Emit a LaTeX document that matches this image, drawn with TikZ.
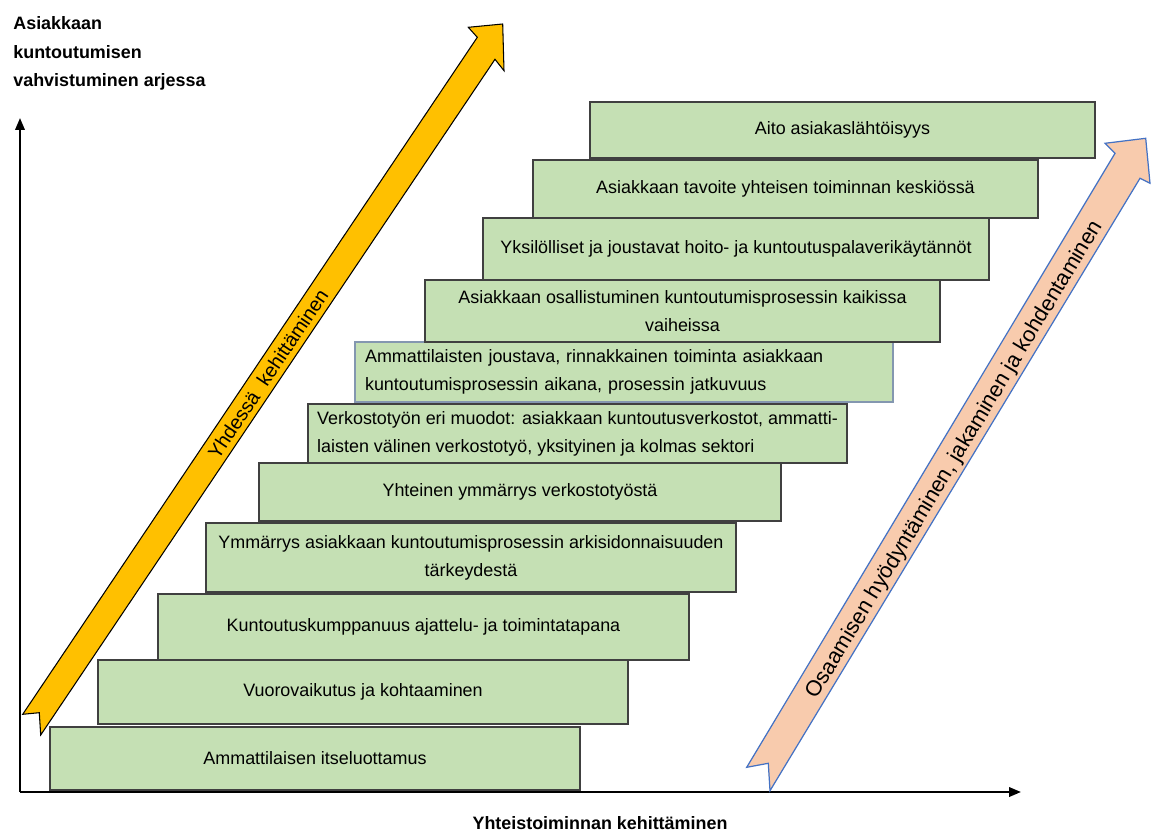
\documentclass[tikz,border=0pt]{standalone}
\usepackage{fontspec}
\setmainfont{Liberation Sans}
\usepackage{tikz}
\usetikzlibrary{arrows.meta}

\definecolor{stepgreen}{HTML}{C5E0B4}
\definecolor{boxline}{HTML}{404040}
\definecolor{slateline}{HTML}{8497B0}
\definecolor{arrowyellow}{HTML}{FFC000}
\definecolor{arrowpeach}{HTML}{F8CBAD}
\definecolor{peachline}{HTML}{4472C4}

\begin{document}
\begin{tikzpicture}[x=0.02cm,y=-0.02cm,
  every node/.style={font=\fontsize{10.2}{15.9}\selectfont},
  stepbox/.style={draw=boxline,line width=0.8pt,fill=stepgreen,inner sep=0pt,align=center},
  axisline/.style={line width=1.2pt,-{Triangle[length=0.24cm,width=0.19cm]}},
  axislabel/.style={font=\fontsize{10.2}{16.4}\selectfont\bfseries,inner sep=0pt},
  arrowtext/.style={font=\fontsize{11.2}{13}\selectfont,inner sep=0pt}]
  \useasboundingbox (0,0) rectangle (1153,834);

  % axes
  \coordinate (o) at (20,792);
  \coordinate (ytop) at (20,118);
  \coordinate (xend) at (1021,792);
  \draw[axisline] (o)--(ytop);
  \draw[axisline] (o)--(xend);
  \node[axislabel,align=left,anchor=north west] (ylabel) at (13,16)
    {Asiakkaan\\kuntoutumisen\\vahvistuminen arjessa};
  \node[axislabel] (xlabel) at (600,823) {Yhteistoiminnan kehittäminen};

  % steps
  \node[stepbox,minimum width=10.6cm,minimum height=1.26cm] (s1) at (315,758.5)
    {Ammattilaisen itseluottamus};
  \node[stepbox,minimum width=10.6cm,minimum height=1.28cm] (s2) at (363,692)
    {Vuorovaikutus ja kohtaaminen};
  \node[stepbox,minimum width=10.62cm,minimum height=1.32cm] (s3) at (423.5,627)
    {Kuntoutuskumppanuus ajattelu- ja toimintatapana};
  \node[stepbox,minimum width=10.6cm,minimum height=1.38cm] (s4) at (471,557.5)
    {Ymmärrys asiakkaan kuntoutumisprosessin arkisidonnaisuuden\\tärkeydestä};
  \node[stepbox,minimum width=10.44cm,minimum height=1.16cm] (s5) at (520,492)
    {Yhteinen ymmärrys verkostotyöstä};
  \node[stepbox,minimum width=10.78cm,minimum height=1.18cm,align=left] (s6) at (577.5,433.5)
    {Verkostotyön eri muodot: asiakkaan kuntoutusverkostot, ammatti-\\laisten välinen verkostotyö, yksityinen ja kolmas sektori};
  \node[stepbox,draw=slateline,minimum width=10.76cm,minimum height=1.2cm,text width=10.36cm,align=left] (s7) at (624,372)
    {Ammattilaisten joustava, rinnakkainen toiminta asiakkaan\\kuntoutumisprosessin aikana, prosessin jatkuvuus};
  \node[stepbox,minimum width=10.3cm,minimum height=1.24cm] (s8) at (682.5,311)
    {Asiakkaan osallistuminen kuntoutumisprosessin kaikissa\\vaiheissa};
  \node[stepbox,minimum width=10.12cm,minimum height=1.24cm] (s9) at (736,249)
    {Yksilölliset ja joustavat hoito- ja kuntoutuspalaverikäytännöt};
  \node[stepbox,minimum width=10.1cm,minimum height=1.16cm] (s10) at (785.5,189)
    {Asiakkaan tavoite yhteisen toiminnan keskiössä};
  \node[stepbox,minimum width=10.1cm,minimum height=1.12cm] (s11) at (842.5,130)
    {Aito asiakaslähtöisyys};

  % yellow arrow
  \coordinate (ya) at (22.7,714.3);
  \coordinate (yb) at (39.3,712.7);
  \coordinate (yc) at (40.7,735);
  \coordinate (yd) at (495,59.3);
  \coordinate (ye) at (504,70.7);
  \coordinate (yf) at (502.7,24);
  \coordinate (yg) at (468.3,27.3);
  \coordinate (yh) at (477.3,37.3);
  \filldraw[fill=arrowyellow,draw=black,line width=0.6pt]
    (ya)--(yb)--(yc)--(yd)--(ye)--(yf)--(yg)--(yh)--cycle;
  \node[arrowtext,rotate=56.1] (together) at (268,374) {Yhdessä\ \ kehittäminen};

  % peach arrow
  \coordinate (pa) at (746.7,767.3);
  \coordinate (pb) at (768.3,763.3);
  \coordinate (pc) at (770,790.7);
  \coordinate (pd) at (1140,178.3);
  \coordinate (pe) at (1150,183.3);
  \coordinate (pf) at (1145.7,138.3);
  \coordinate (pg) at (1105,143.3);
  \coordinate (ph) at (1115,153.3);
  \filldraw[fill=arrowpeach,draw=peachline,line width=0.7pt]
    (pa)--(pb)--(pc)--(pd)--(pe)--(pf)--(pg)--(ph)--cycle;
  \node[arrowtext,font=\fontsize{12.4}{14}\selectfont,rotate=58.9] (sharing) at (955,460)
    {Osaamisen hyödyntäminen, jakaminen ja kohdentaminen};
\end{tikzpicture}
\end{document}
